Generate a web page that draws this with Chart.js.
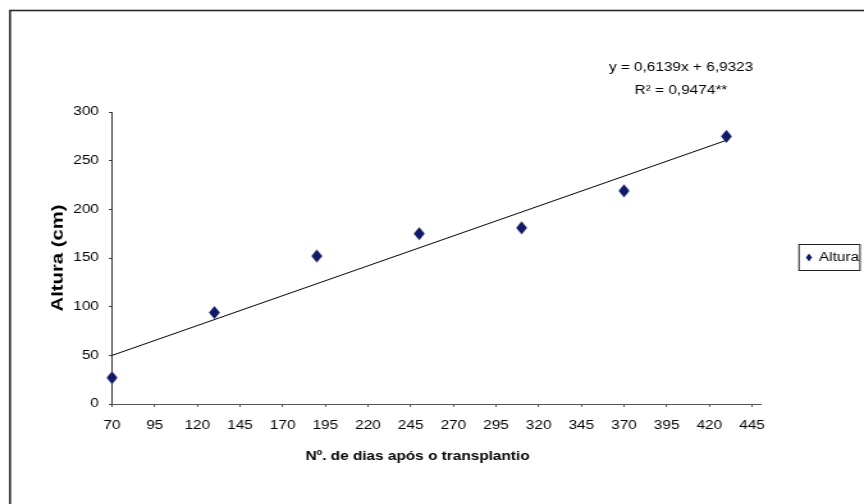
<!DOCTYPE html>
<html lang="pt">
<head>
<meta charset="UTF-8">
<title>Altura x dias após o transplantio</title>
<script src="https://cdn.jsdelivr.net/npm/chart.js"></script>
<style>
  html, body { margin: 0; padding: 0; background: #fff; overflow: hidden; }
</style>
</head>
<body>
<!-- canvas is drawn narrower and stretched sideways, like the old exported figure -->
<canvas id="grafico" width="675" height="504" style="display:block;width:864px;height:504px"></canvas>
<script>
// dias após o transplantio x altura das plantas (cm)
const dias = [70, 130, 190, 250, 310, 370, 430];
const altura = [27, 94, 152, 175, 181, 219, 275];

// reta ajustada y = a*x + b
const coefA = 0.6139;
const coefB = 6.9323;
const r2 = 0.9474;

const ticksX = [70, 95, 120, 145, 170, 195, 220, 245, 270, 295, 320, 345, 370, 395, 420, 445];
const ticksY = [0, 50, 100, 150, 200, 250, 300];

const esticar = 864 / 675;   // horizontal stretch of the canvas
const fonte = '"Liberation Sans", Arial, sans-serif';
const corPonto = '#111a66';

const fmt = n => n.toFixed(4).replace('.', ',');

// diamond marker, pre-squeezed so it looks right after the stretch
function losango(w, h, cor) {
    const c = document.createElement('canvas');
    c.width = Math.ceil(w) + 2;
    c.height = Math.ceil(h) + 2;
    const g = c.getContext('2d');
    const cx = c.width / 2, cy = c.height / 2;
    g.fillStyle = cor;
    g.beginPath();
    g.moveTo(cx, cy - h / 2);
    g.lineTo(cx + w / 2, cy);
    g.lineTo(cx, cy + h / 2);
    g.lineTo(cx - w / 2, cy);
    g.closePath();
    g.fill();
    return c;
}

const pontos = dias.map((d, i) => ({ x: d, y: altura[i] }));
const reta = [dias[0], dias[dias.length - 1]].map(x => ({ x: x, y: coefA * x + coefB }));

// border, equation, axis titles and legend box
const extras = {
    id: 'extras',
    afterDraw(chart) {
        const ctx = chart.ctx;
        ctx.save();

        ctx.strokeStyle = '#2a2a2a';
        ctx.lineWidth = 1.6;
        ctx.strokeRect(10 / esticar, 10.5, 2000, 2000);

        ctx.fillStyle = '#000';
        ctx.font = '12px ' + fonte;
        ctx.textAlign = 'center';
        ctx.textBaseline = 'alphabetic';
        const cx = 681 / esticar;
        ctx.fillText('y = ' + fmt(coefA) + 'x + ' + fmt(coefB), cx, 71);
        ctx.fillText('R² = ' + fmt(r2) + '**', cx, 94);

        // x title
        ctx.font = 'bold 12px ' + fonte;
        ctx.textBaseline = 'middle';
        ctx.fillText('Nº. de dias após o transplantio', 417.5 / esticar, 457);

        // y title, rotated and stretched along its length
        ctx.save();
        ctx.translate(59 / esticar, 258);
        ctx.rotate(-Math.PI / 2);
        ctx.font = 'bold 12px ' + fonte;
        const w = ctx.measureText('Altura (cm)').width;
        ctx.scale(107 / w, 1);
        ctx.fillText('Altura (cm)', 0, 0);
        ctx.restore();

        // legend
        ctx.strokeStyle = '#222';
        ctx.lineWidth = 1;
        ctx.strokeRect(799 / esticar, 244.5, 61 / esticar, 26);
        ctx.fillStyle = corPonto;
        const lx = 809 / esticar, ly = 257.5;
        ctx.beginPath();
        ctx.moveTo(lx, ly - 4);
        ctx.lineTo(lx + 2.4, ly);
        ctx.lineTo(lx, ly + 4);
        ctx.lineTo(lx - 2.4, ly);
        ctx.closePath();
        ctx.fill();
        ctx.fillStyle = '#000';
        ctx.font = '12px ' + fonte;
        ctx.textAlign = 'left';
        ctx.fillText('Altura', 819 / esticar, ly);

        ctx.restore();
    }
};

const canvas = document.getElementById('grafico');
new Chart(canvas, {
    type: 'scatter',
    data: {
        datasets: [
            {
                label: 'Altura',
                data: pontos,
                pointStyle: losango(11 / esticar, 13, corPonto),
                pointRadius: 6,
                backgroundColor: corPonto,
                borderColor: corPonto,
                clip: false
            },
            {
                type: 'line',
                label: 'Linear',
                data: reta,
                borderColor: '#000',
                borderWidth: 1,
                pointRadius: 0,
                fill: false,
                clip: false
            }
        ]
    },
    options: {
        responsive: false,
        devicePixelRatio: 1,
        animation: false,
        events: [],
        layout: { padding: { left: 0, top: 112, right: 675 - 760.5 / esticar, bottom: 0 } },
        plugins: {
            legend: { display: false },
            tooltip: { enabled: false }
        },
        scales: {
            x: {
                type: 'linear',
                min: 70,
                max: 450,
                afterBuildTicks: s => { s.ticks = ticksX.map(v => ({ value: v })); },
                afterFit: s => { s.height = 100; },
                grid: { drawOnChartArea: false, tickLength: 3, color: '#555' },
                border: { color: '#555', width: 1 },
                ticks: { padding: 11, color: '#000', maxRotation: 0, autoSkip: false, font: { family: fonte, size: 12 } }
            },
            y: {
                type: 'linear',
                min: 0,
                max: 300,
                afterBuildTicks: s => { s.ticks = ticksY.map(v => ({ value: v })); },
                afterFit: s => { s.width = 112 / esticar; },
                grid: { drawOnChartArea: false, tickLength: 3 / esticar, color: '#333' },
                border: { color: '#333', width: 1 },
                ticks: { padding: 7.9, color: '#000', font: { family: fonte, size: 12 } }
            }
        }
    },
    plugins: [extras]
});
canvas.style.width = '864px';
canvas.style.height = '504px';
</script>
</body>
</html>
